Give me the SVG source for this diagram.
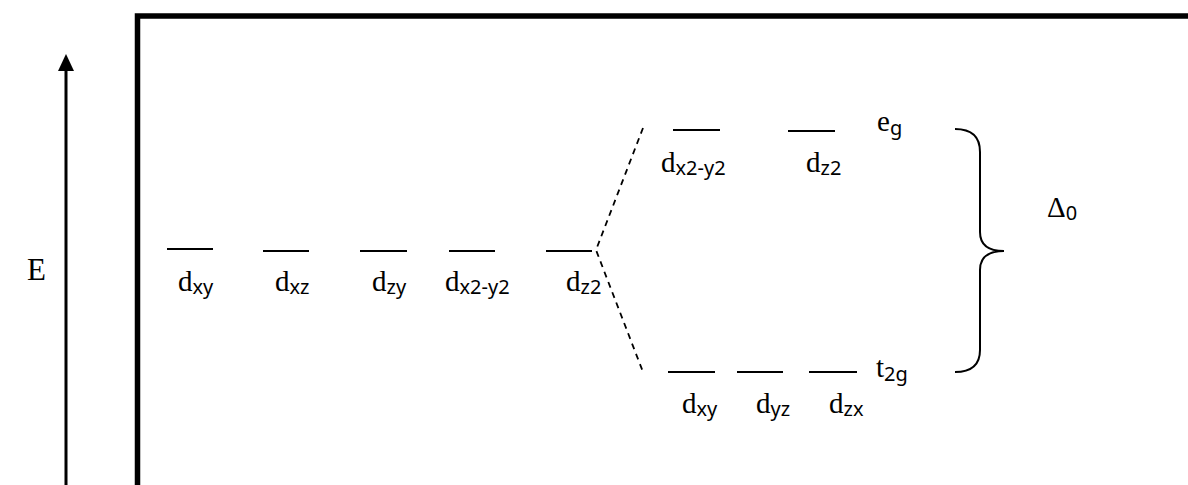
<svg xmlns="http://www.w3.org/2000/svg" width="1188" height="485" viewBox="0 0 1188 485">
<style>
.t{font-family:"Liberation Serif","Times New Roman",serif;font-size:29px;fill:#000}
.s{font-family:"Noto Sans","Open Sans",sans-serif;font-size:20px}
.lv{stroke:#000;stroke-width:2;fill:none}
.dash{stroke:#000;stroke-width:1.8;stroke-dasharray:6 5;fill:none}
</style>
<rect width="1188" height="485" fill="#fff"/>
<g id="frame"><path d="M137.5,485 V16 H1188" stroke="#000" stroke-width="5.5" fill="none"/></g>
<g id="energy-axis">
<line x1="66" y1="485" x2="66" y2="66" stroke="#000" stroke-width="3"/>
<polygon points="66,54 58,71 74,71" fill="#000"/>
<text class="t" x="27" y="280" style="font-size:31px">E</text>
</g>
<g id="free-ion">
<g id="l1"><line class="lv" x1="167" y1="249" x2="213" y2="249"/><text class="t" x="178" y="291">d<tspan class="s" dy="3">xy</tspan></text></g>
<g id="l2"><line class="lv" x1="263" y1="251" x2="309" y2="251"/><text class="t" x="275" y="291">d<tspan class="s" dy="3">xz</tspan></text></g>
<g id="l3"><line class="lv" x1="360" y1="251" x2="407" y2="251"/><text class="t" x="372" y="291">d<tspan class="s" dy="3">zy</tspan></text></g>
<g id="l4"><line class="lv" x1="449" y1="251" x2="495" y2="251"/><text class="t" x="445" y="291">d<tspan class="s" dy="3">x2-y2</tspan></text></g>
<g id="l5"><line class="lv" x1="546" y1="251" x2="592" y2="251"/><text class="t" x="566" y="291">d<tspan class="s" dy="3">z2</tspan></text></g>
</g>
<g id="eg-set">
<g id="u1"><line class="lv" x1="673" y1="130" x2="720" y2="130"/><text class="t" x="661" y="172">d<tspan class="s" dy="3">x2-y2</tspan></text></g>
<g id="u2"><line class="lv" x1="788" y1="131" x2="835" y2="131"/><text class="t" x="806" y="172">d<tspan class="s" dy="3">z2</tspan></text></g>
<text class="t" x="877" y="131">e<tspan class="s" dy="4">g</tspan></text>
</g>
<g id="t2g-set">
<g id="b1"><line class="lv" x1="668" y1="372" x2="715" y2="372"/><text class="t" x="682" y="413">d<tspan class="s" dy="3">xy</tspan></text></g>
<g id="b2"><line class="lv" x1="737" y1="372" x2="783" y2="372"/><text class="t" x="756" y="413">d<tspan class="s" dy="3">yz</tspan></text></g>
<g id="b3"><line class="lv" x1="809" y1="372" x2="857" y2="372"/><text class="t" x="829" y="413">d<tspan class="s" dy="3">zx</tspan></text></g>
<text class="t" x="876" y="377">t<tspan class="s" dy="4">2g</tspan></text>
</g>
<g id="splitting">
<path class="lv" d="M955,129 Q980,129 980,152 L980,232 Q980,251 1004,251 Q980,251 980,270 L980,350 Q980,372 955,372"/>
<text class="t" x="1047" y="217">Δ<tspan class="s" dy="3">0</tspan></text>
</g>
<g id="connectors">
<path class="dash" d="M643,128 L596,250 L643,372"/>
</g>
</svg>
